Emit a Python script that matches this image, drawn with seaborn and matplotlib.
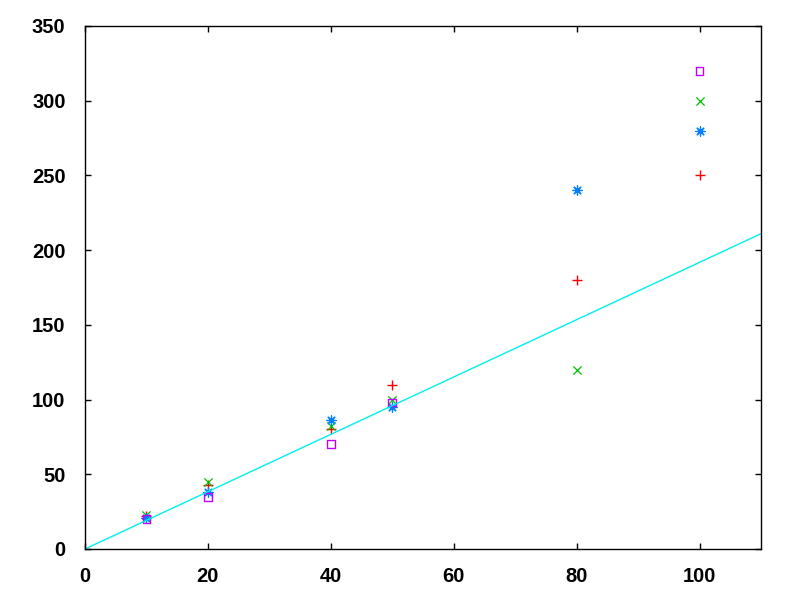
import numpy as np
import pandas as pd
import matplotlib
matplotlib.use("Agg")
import matplotlib.pyplot as plt
import seaborn as sns

# measured points, one list per series
x_vals = [10, 20, 40, 50, 80, 100]
red_plus = [22, 43, 80, 110, 180, 250]
green_x = [23, 45, 82, 100, 120, 300]
blue_star = [21, 38, 86, 95, 240, 280]
sq_x = [10, 20, 40, 50, 100]
magenta_sq = [20, 35, 70, 98, 320]

# fitted line
fit_x = [0, 110]
fit_y = [0, 211]

sns.set_theme(style="white")
plt.rcParams["font.family"] = ["Liberation Sans", "DejaVu Sans"]
plt.rcParams["font.weight"] = "bold"
plt.rcParams["text.color"] = "black"
plt.rcParams["xtick.color"] = "black"
plt.rcParams["ytick.color"] = "black"

fig = plt.figure(figsize=(8, 6), dpi=100)
ax = fig.add_axes([0.10625, 0.085, 0.845, 0.8717])

# cyan line
sns.lineplot(x=fit_x, y=fit_y, color="#00eeee", linewidth=1.0, ax=ax)

# scatter series, gnuplot-like point types
sns.scatterplot(x=x_vals, y=red_plus, marker="+", color="#ff0000",
                s=45, linewidth=1.0, ax=ax)
sns.scatterplot(x=x_vals, y=green_x, marker="x", color="#00c000",
                s=35, linewidth=0.9, ax=ax)
sns.scatterplot(x=x_vals, y=blue_star, marker=(8, 2, 0), color="#0080ff",
                s=45, linewidth=0.9, ax=ax)
sns.scatterplot(x=sq_x, y=magenta_sq, marker="s", color="#c000ff",
                facecolor="none", edgecolor="#c000ff",
                s=32, linewidth=1.0, ax=ax)

ax.set_xlim(0, 110)
ax.set_ylim(0, 350)
ax.set_xticks([0, 20, 40, 60, 80, 100])
ax.set_yticks([0, 50, 100, 150, 200, 250, 300, 350])

for sp in ax.spines.values():
    sp.set_visible(True)
    sp.set_color("black")
    sp.set_linewidth(1.0)

ax.tick_params(axis="both", direction="in", length=4.5, width=1.0,
               color="black", labelcolor="black", labelsize=14.5,
               top=True, right=True, bottom=True, left=True)
ax.tick_params(axis="x", pad=13)
ax.tick_params(axis="y", pad=14)
for lab in ax.get_xticklabels() + ax.get_yticklabels():
    lab.set_fontweight("bold")
ax.grid(False)

fig.savefig("out.png", dpi=100)
